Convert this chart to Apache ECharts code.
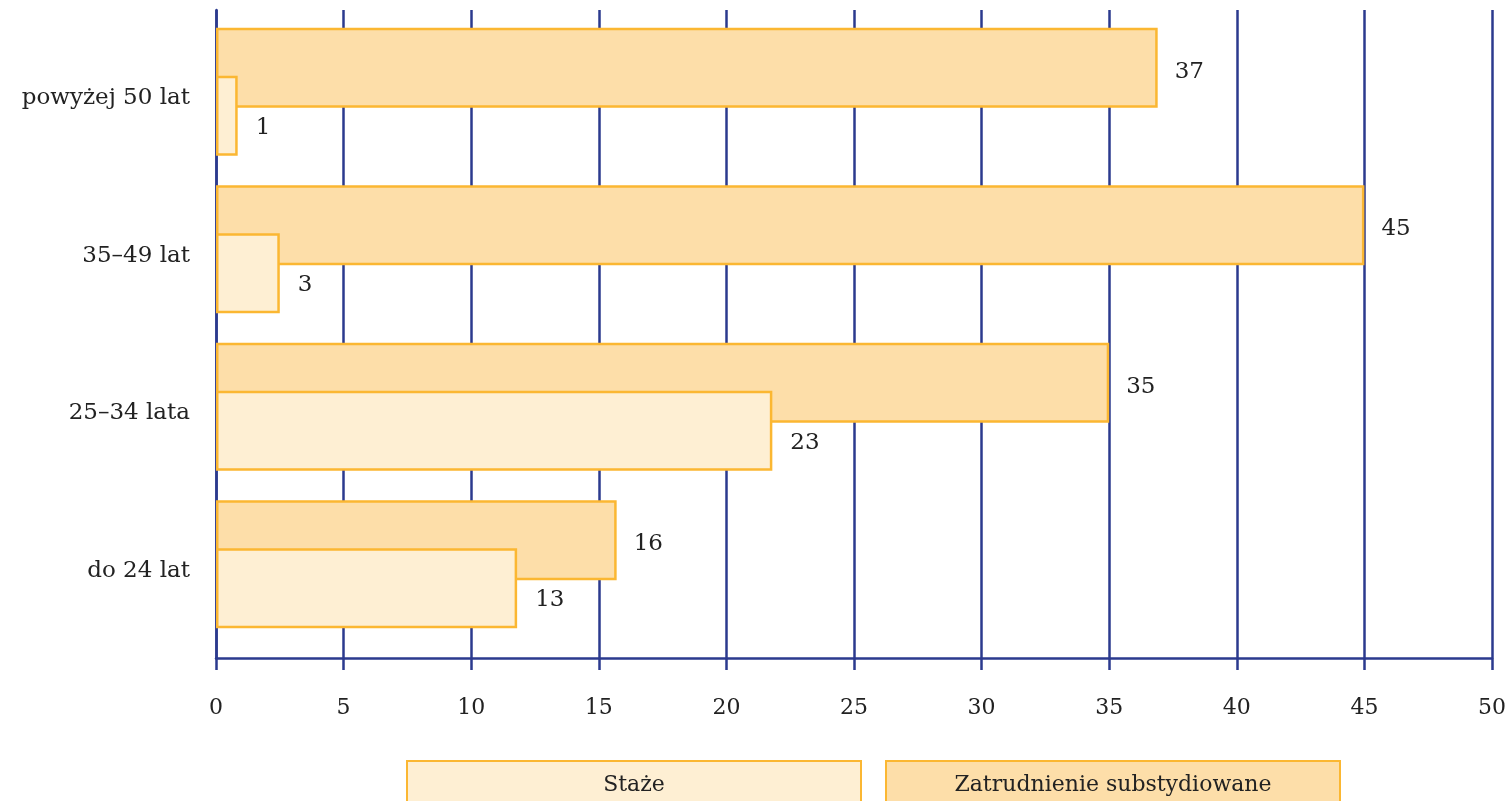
<!DOCTYPE html>
<html>
<head>
<meta charset="utf-8">
<script src="https://cdn.jsdelivr.net/npm/echarts@6/dist/echarts.min.js"></script>
<style>
  html, body { margin: 0; padding: 0; background: #fff; }
  #chart { width: 1510px; height: 801px; }
</style>
</head>
<body>
<div id="chart"></div>
<script>
// kategorie wiekowe (od dołu do góry)
var categories = ['do 24 lat', '25–34 lata', '35–49 lat', 'powyżej 50 lat']
var seriesNames = ['Staże', 'Zatrudnienie substydiowane']
// wartości podpisane na wykresie
var stazeValues = [13, 23, 3, 1]
var zatrudnienieValues = [16, 35, 45, 37]
// długości słupków (nie zgadzają się dokładnie z podpisami)
var stazeBars = [11.8, 21.8, 2.5, 0.85]
var zatrudnienieBars = [15.7, 35, 45, 36.9]
var xTicks = [0, 50, 5]

var navy = '#2b3a8e'
var border = '#fbb732'
var font = 'DejaVu Serif'
var fillStaze = '#feefd3'
var fillZatr = '#fddea9'

var chart = echarts.init(document.getElementById('chart'))
var option = {
  animation: false,
  // grid 0: oś X z liniami siatki, grid 1: słupki i kategorie
  grid: [
    { left: 216, right: 18, top: 10, bottom: 143 },
    { left: 216, right: 18, top: 13, height: 630 }
  ],
  legend: {
    bottom: -14,
    left: 398,
    icon: 'none',
    itemWidth: 0,
    itemGap: 20,
    selectedMode: false,
    data: seriesNames,
    formatter: function (name) {
      return name === seriesNames[0] ? '{s|' + name + '}' : '{z|' + name + '}'
    },
    textStyle: {
      fontFamily: font, fontSize: 22, color: '#222',
      rich: {
        s: {
          fontFamily: font, fontSize: 22, color: '#222',
          width: 452, height: 46, lineHeight: 46, align: 'center',
          backgroundColor: fillStaze, borderColor: border, borderWidth: 2
        },
        z: {
          fontFamily: font, fontSize: 22, color: '#222',
          width: 452, height: 46, lineHeight: 46, align: 'center',
          backgroundColor: fillZatr, borderColor: border, borderWidth: 2
        }
      }
    }
  },
  xAxis: [
    {
      gridIndex: 0,
      type: 'value',
      min: xTicks[0],
      max: xTicks[1],
      interval: xTicks[2],
      axisLine: { show: true, lineStyle: { color: navy, width: 2.5 } },
      axisTick: { show: true, length: 12, lineStyle: { color: navy, width: 2.5 } },
      splitLine: { show: true, lineStyle: { color: navy, width: 2.5 } },
      axisLabel: { margin: 39, fontFamily: font, fontSize: 22, color: '#222' }
    },
    {
      gridIndex: 1,
      type: 'value',
      min: xTicks[0],
      max: xTicks[1],
      show: false
    }
  ],
  yAxis: [
    {
      gridIndex: 0,
      type: 'value',
      axisLine: { show: true, lineStyle: { color: navy, width: 2.5 } },
      axisTick: { show: false },
      axisLabel: { show: false },
      splitLine: { show: false }
    },
    {
      gridIndex: 1,
      type: 'category',
      data: categories,
      axisLine: { show: false },
      axisTick: { show: false },
      axisLabel: {
        margin: 26, fontFamily: font, fontSize: 23, color: '#222',
        verticalAlign: 'top', lineHeight: 13
      }
    }
  ],
  series: [
    {
      name: seriesNames[1],
      type: 'bar',
      xAxisIndex: 1,
      yAxisIndex: 1,
      data: zatrudnienieBars,
      barWidth: 80,
      barGap: '-40%',
      z: 2,
      itemStyle: { color: fillZatr, borderColor: border, borderWidth: 2.5 },
      label: {
        show: true, position: 'right', distance: 17, offset: [0, 4],
        fontFamily: font, fontSize: 23, color: '#222',
        formatter: function (p) { return zatrudnienieValues[p.dataIndex] }
      }
    },
    {
      name: seriesNames[0],
      type: 'bar',
      xAxisIndex: 1,
      yAxisIndex: 1,
      data: stazeBars,
      barWidth: 80,
      barGap: '-40%',
      z: 3,
      itemStyle: { color: fillStaze, borderColor: border, borderWidth: 2.5 },
      label: {
        show: true, position: 'right', distance: 18, offset: [0, 12],
        fontFamily: font, fontSize: 23, color: '#222',
        formatter: function (p) { return stazeValues[p.dataIndex] }
      }
    }
  ]
}
chart.setOption(option)
</script>
</body>
</html>
